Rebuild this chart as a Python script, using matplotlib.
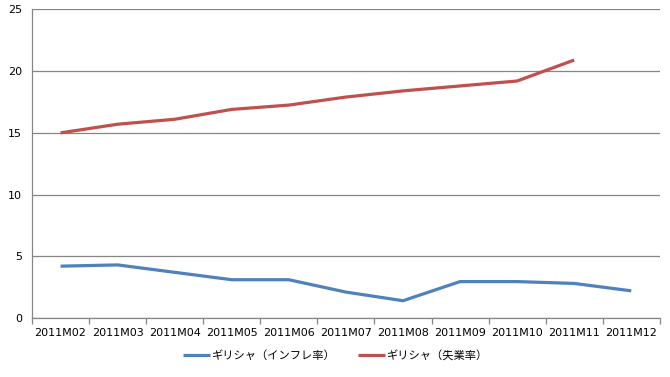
#!/usr/bin/env python3

import matplotlib.pyplot as plt
from matplotlib.ticker import FixedLocator

plt.rcParams['font.family'] = ['Noto Sans CJK JP', 'DejaVu Sans']

# Data
months = ['2011M02', '2011M03', '2011M04', '2011M05', '2011M06', '2011M07',
          '2011M08', '2011M09', '2011M10', '2011M11', '2011M12']
inflation = [4.2, 4.3, 3.7, 3.1, 3.1, 2.1, 1.4, 2.95, 2.95, 2.8, 2.2]
unemployment = [15.0, 15.7, 16.1, 16.9, 17.25, 17.9, 18.4, 18.8, 19.2, 20.9]

label_inflation = 'ギリシャ（インフレ率）'
label_unemployment = 'ギリシャ（失業率）'

fig = plt.figure(figsize=(6.7, 3.77), dpi=100)
ax = fig.add_axes([0.0478, 0.1565, 0.937, 0.8185])

x = list(range(len(months)))
ax.plot(x, inflation, color='#4F81BD', linewidth=2.3, label=label_inflation,
        solid_joinstyle='round', solid_capstyle='butt')
ax.plot(x[:len(unemployment)], unemployment, color='#C0504D', linewidth=2.3,
        label=label_unemployment, solid_joinstyle='round', solid_capstyle='butt')

ax.set_xlim(-0.5, len(months) - 0.5)
ax.set_ylim(0, 25)
ax.set_yticks([0, 5, 10, 15, 20, 25])
ax.grid(True, axis='y', color='#868686', linewidth=0.9)
ax.set_axisbelow(True)

ax.set_xticks(x)
ax.set_xticklabels(months, family='DejaVu Sans', fontsize=8)
ax.set_yticklabels([0, 5, 10, 15, 20, 25], family='DejaVu Sans', fontsize=8)
ax.xaxis.set_minor_locator(FixedLocator([i - 0.5 for i in range(len(months) + 1)]))
ax.tick_params(axis='x', which='major', length=0, pad=7)
ax.tick_params(axis='x', which='minor', length=4, color='#868686', width=0.9)
ax.tick_params(axis='y', length=0, pad=7)

for side in ['top', 'right']:
    ax.spines[side].set_visible(False)
for side in ['left', 'bottom']:
    ax.spines[side].set_color('#868686')
    ax.spines[side].set_linewidth(0.9)

fig.legend(loc='center', bbox_to_anchor=(0.5, 0.058), ncol=2, frameon=False,
           fontsize=8.1, handlelength=2.4, handletextpad=0.1, columnspacing=2.0)

plt.savefig('out.png', dpi=100)
plt.close()
